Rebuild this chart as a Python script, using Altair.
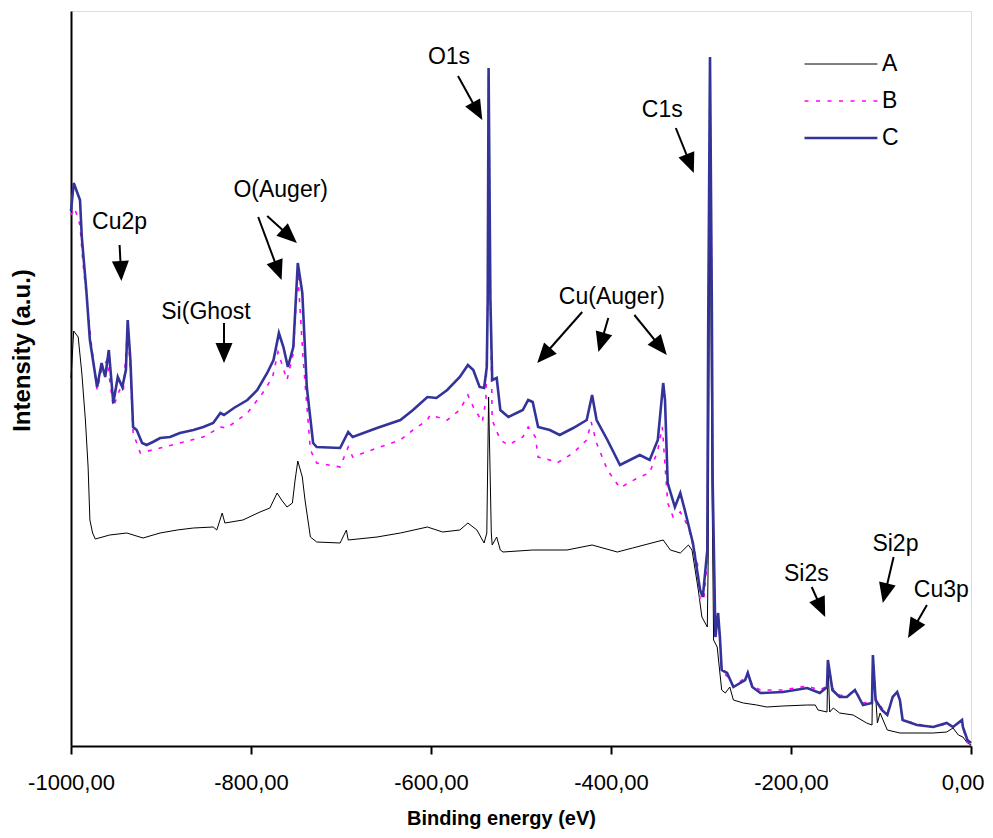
import math
import altair as alt
import pandas as pd

# ---------------- data (binding energy in eV, intensity in a.u.) ----------------
A_energy = [-1000, -997, -992, -988, -984, -981, -979, -976, -973, -957, -938, -920, -901, -882,
            -864, -842, -838, -832, -829, -809, -790, -779, -771, -766, -760, -754, -751, -748,
            -743, -740, -734, -727, -701, -694, -692, -660, -634, -604, -587, -568, -559, -549,
            -541, -538, -536, -533, -532, -527, -523, -520, -487, -449, -421, -393, -376, -342,
            -334, -323, -314, -310, -303, -299, -293, -292, -290, -288, -286, -282, -279, -277,
            -273, -268, -264, -253, -238, -227, -209, -182, -173, -170, -160, -159, -157, -153,
            -146, -131, -116, -110, -109, -104, -101, -93, -79, -60, -42, -27, -20, -14, -9, -4, 0]
A_int = [368, 415, 409, 373, 326, 279, 226, 213, 207, 211, 213, 208, 213, 216,
         218, 219, 216, 233, 223, 226, 234, 238, 253, 246, 239, 243, 266, 285,
         269, 246, 209, 204, 203, 216, 206, 209, 213, 219, 214, 216, 223, 216,
         203, 213, 349, 213, 201, 209, 196, 194, 196, 196, 201, 194, 198, 206,
         196, 193, 201, 196, 156, 129, 119, 186, 596, 283, 106, 99, 73, 56,
         53, 59, 46, 43, 41, 39, 40, 41, 41, 36, 34, 86, 34, 38,
         33, 31, 23, 21, 91, 23, 33, 16, 13, 13, 13, 14, 18, 11, 9, 3, 1]

B_energy = [-1000, -996, -990, -987, -977, -971, -966, -960, -953, -946, -942, -937, -934, -931,
            -923, -901, -879, -853, -834, -827, -804, -787, -776, -770, -760, -753, -748, -742,
            -734, -727, -701, -692, -687, -660, -634, -620, -604, -601, -582, -568, -559, -553,
            -543, -539, -537, -536, -534, -532, -523, -514, -498, -492, -484, -481, -468, -460,
            -442, -427, -422, -416, -404, -390, -379, -368, -357, -348, -343, -337, -331, -323,
            -320, -314, -304, -301, -297, -293, -292, -290, -288, -287, -284, -281, -279, -277,
            -271, -264, -251, -248, -243, -234, -209, -182, -168, -160, -159, -154, -146, -138,
            -129, -120, -110, -109, -106, -99, -93, -87, -82, -79, -76, -60, -42, -27, -20, -10,
            -9, -4, 0]
B_int = [531, 538, 521, 486, 399, 356, 376, 386, 339, 356, 353, 419, 376, 313,
         293, 298, 303, 309, 319, 318, 333, 353, 369, 394, 366, 393, 473, 386,
         296, 283, 279, 299, 289, 298, 306, 316, 326, 331, 326, 336, 351, 339,
         324, 346, 446, 671, 446, 326, 306, 301, 309, 319, 309, 289, 286, 283,
         293, 306, 324, 303, 276, 258, 264, 269, 273, 296, 319, 243, 229, 234,
         229, 219, 183, 146, 146, 186, 416, 681, 446, 256, 106, 128, 106, 74,
         70, 60, 68, 74, 60, 56, 56, 60, 56, 60, 84, 58, 51, 50,
         56, 43, 44, 86, 48, 38, 33, 49, 53, 46, 26, 22, 19, 22, 19, 25,
         18, 4, 1]

C_energy = [-1000, -997, -990, -988, -983, -979, -971, -966, -962, -958, -953, -948, -943, -939,
            -937, -934, -931, -927, -921, -916, -909, -901, -890, -879, -864, -853, -842, -834,
            -830, -819, -804, -793, -782, -775, -769, -764, -759, -753, -748, -743, -738, -731,
            -727, -701, -692, -687, -660, -634, -620, -604, -594, -582, -568, -559, -553, -546,
            -541, -538, -537, -536, -534, -532, -527, -523, -514, -498, -492, -487, -481, -468,
            -457, -442, -427, -421, -416, -404, -390, -379, -368, -357, -348, -342, -340, -337,
            -329, -323, -318, -309, -301, -298, -293, -292, -290, -288, -287, -284, -281, -279,
            -277, -271, -264, -251, -248, -243, -234, -209, -182, -168, -160, -159, -154, -146,
            -138, -129, -120, -110, -109, -106, -99, -93, -87, -82, -79, -76, -60, -42, -27,
            -20, -10, -9, -4, 0]
C_int = [535, 563, 546, 509, 456, 406, 359, 383, 369, 396, 343, 369, 359, 376,
         426, 386, 319, 316, 303, 301, 304, 308, 309, 313, 316, 319, 323, 333,
         331, 338, 346, 356, 373, 386, 413, 399, 379, 399, 483, 453, 359, 303,
         299, 298, 314, 309, 318, 326, 336, 349, 348, 356, 369, 381, 376, 359,
         358, 379, 446, 678, 446, 366, 368, 336, 329, 336, 346, 344, 319, 316,
         311, 318, 326, 351, 326, 306, 281, 286, 291, 286, 306, 363, 346, 263,
         239, 253, 236, 203, 156, 149, 196, 419, 689, 446, 263, 109, 133, 109,
         76, 73, 59, 66, 73, 59, 53, 54, 58, 53, 59, 86, 56, 49,
         49, 56, 41, 43, 91, 46, 36, 31, 49, 54, 46, 26, 21, 19, 23,
         19, 26, 19, 6, 3]

series_names = ["A", "B", "C"]
series_colors = ["#000000", "#FF00FF", "#333399"]

# peak labels and their arrows (energy, intensity)
label_text = ["O1s", "C1s", "Cu2p", "Si(Ghost", "O(Auger)", "Cu(Auger)", "Si2s", "Si2p", "Cu3p"]
label_energy = [-580, -343, -946, -850, -767, -399, -183, -84, -33]
label_int = [689, 636, 524, 434, 556, 449, 172, 202, 156]

arrow_start_e = [-570, -328, -946, -830, -792, -782, -432, -403, -374, -177, -86, -49]
arrow_start_i = [670, 618, 501, 423, 529, 530, 434, 428, 431, 159, 189, 141]
arrow_tip_e = [-543, -308, -944, -830, -766, -749, -482, -414, -338, -162, -98, -70]
arrow_tip_i = [626, 573, 465, 383, 466, 503, 383, 394, 391, 129, 143, 108]

legend_int = [682, 645, 608]

# ---------------- chart ----------------
W, H = 900, 735
X_DOM = [-1000, 0]
Y_DOM = [0, 735]
kx = W / (X_DOM[1] - X_DOM[0])
ky = H / (Y_DOM[1] - Y_DOM[0])

x_scale = alt.Scale(domain=X_DOM, nice=False, zero=False)
y_scale = alt.Scale(domain=Y_DOM, nice=False, zero=False)

x_axis = alt.Axis(
    title="Binding energy (eV)",
    values=[-1000, -800, -600, -400, -200, 0],
    labelExpr="(datum.value < 0 ? '-' : '') + abs(datum.value) + ',00'",
    labelFont="Liberation Sans", labelFontSize=22, labelColor="#000",
    labelPadding=18, labelFlush=False,
    labelAlign={"condition": {"test": "datum.value === 0", "value": "right"}, "value": "center"},
    labelOffset={"condition": {"test": "datum.value === 0", "value": 13}, "value": 0},
    tickSize=8, tickWidth=2, tickColor="#000",
    domainColor="#000", domainWidth=2, grid=False,
    titleFont="Liberation Sans", titleFontSize=20, titleFontWeight="bold", titleColor="#000",
    titleX=430, titleY=78, titleBaseline="alphabetic", titleAlign="center",
)
y_axis = alt.Axis(
    title="Intensity (a.u.)", labels=False, ticks=False, grid=False,
    domainColor="#000", domainWidth=2,
    titleFont="Liberation Sans", titleFontSize=24, titleFontWeight="bold", titleColor="#000",
    titleAngle=270, titleX=-49, titleY=339, titleBaseline="middle", titleAlign="center",
)

def series_df(e, v):
    return pd.DataFrame({"energy": e, "intensity": v})

enc_x = alt.X("energy:Q", scale=x_scale, axis=x_axis)
enc_y = alt.Y("intensity:Q", scale=y_scale, axis=y_axis)

line_a = alt.Chart(series_df(A_energy, A_int)).mark_line(
    color=series_colors[0], strokeWidth=1).encode(x=enc_x, y=enc_y, order="energy:Q")
line_b = alt.Chart(series_df(B_energy, B_int)).mark_line(
    color=series_colors[1], strokeWidth=1.6, strokeDash=[4, 7]).encode(
    x=alt.X("energy:Q", scale=x_scale), y=alt.Y("intensity:Q", scale=y_scale), order="energy:Q")
line_c = alt.Chart(series_df(C_energy, C_int)).mark_line(
    color=series_colors[2], strokeWidth=2.6).encode(
    x=alt.X("energy:Q", scale=x_scale), y=alt.Y("intensity:Q", scale=y_scale), order="energy:Q")

# labels
lab_df = pd.DataFrame({"t": label_text, "e": label_energy, "i": label_int})
labels = alt.Chart(lab_df).mark_text(
    font="Liberation Sans", fontSize=23, color="#000", align="center", baseline="middle"
).encode(x=alt.X("e:Q", scale=x_scale), y=alt.Y("i:Q", scale=y_scale), text="t:N")

# arrows: shaft + triangular head
HEAD = 20.0
rows = []
for se, si, te, ti in zip(arrow_start_e, arrow_start_i, arrow_tip_e, arrow_tip_i):
    dx = (te - se) * kx
    dy = -(ti - si) * ky  # screen direction (down positive)
    L = math.hypot(dx, dy)
    ux, uy = dx / L, dy / L
    half = HEAD / 2
    ce = te - ux * half / kx
    ci = ti + uy * half / ky
    ang = math.degrees(math.atan2(ux, -uy)) % 360
    rows.append({"se": se, "si": si, "be": ce, "bi": ci, "ce": ce, "ci": ci, "ang": ang})
arr_df = pd.DataFrame(rows)

shafts = alt.Chart(arr_df).mark_rule(color="#000", strokeWidth=2).encode(
    x=alt.X("se:Q", scale=x_scale), y=alt.Y("si:Q", scale=y_scale),
    x2="be:Q", y2="bi:Q")
heads = alt.Chart(arr_df).mark_point(
    shape="M0,-1L-0.85,1L0.85,1Z", filled=True, color="#000", opacity=1, size=HEAD * HEAD
).encode(x=alt.X("ce:Q", scale=x_scale), y=alt.Y("ci:Q", scale=y_scale),
         angle=alt.Angle("ang:Q", scale=None))

# legend drawn in the plot
leg_rows = []
for n, c, li in zip(series_names, series_colors, legend_int):
    leg_rows.append({"name": n, "color": c, "x1": -185, "x2": -104, "i": li, "xt": -99})
leg_df = pd.DataFrame(leg_rows)

def leg_line(name, dash, width):
    base = alt.Chart(leg_df).transform_filter(alt.datum.name == name)
    kw = dict(strokeWidth=width, color=leg_df.loc[leg_df.name == name, "color"].iloc[0])
    if dash:
        kw["strokeDash"] = dash
    return base.mark_rule(**kw).encode(
        x=alt.X("x1:Q", scale=x_scale), x2="x2:Q", y=alt.Y("i:Q", scale=y_scale))

leg_lines = [leg_line("A", None, 1), leg_line("B", [4, 7.5], 1.6), leg_line("C", None, 2.6)]
leg_text = alt.Chart(leg_df).mark_text(
    font="Liberation Sans", fontSize=23, color="#000", align="left", baseline="middle"
).encode(x=alt.X("xt:Q", scale=x_scale), y=alt.Y("i:Q", scale=y_scale), text="name:N")

chart = alt.layer(
    line_a, line_b, line_c, shafts, heads, labels, *leg_lines, leg_text
).properties(
    width=W, height=H,
    autosize=alt.AutoSizeParams(type="none"),
    padding={"left": 63, "top": 3, "right": 14, "bottom": 84},
).configure_view(stroke="#000", strokeWidth=2).configure(background="white")

chart.save("out.html", embed_options={"renderer": "svg", "actions": False})
